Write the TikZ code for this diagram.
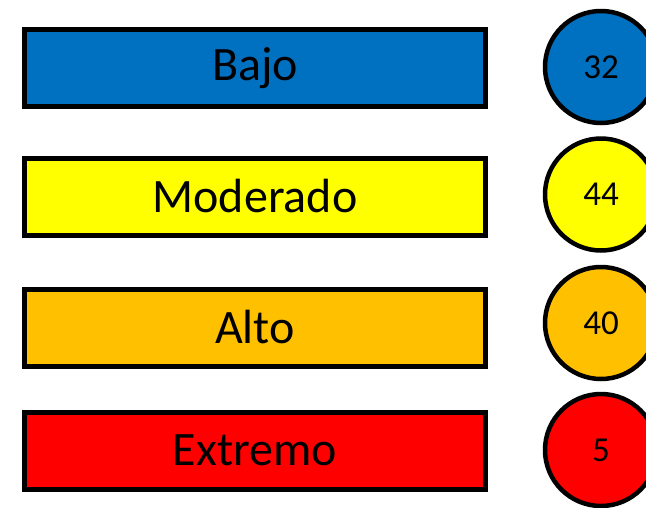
\documentclass[tikz,border=0pt]{standalone}
\usepackage{fontspec}
\setmainfont{Carlito}
\definecolor{bajo}{HTML}{0070C0}
\definecolor{moderado}{HTML}{FFFF00}
\definecolor{alto}{HTML}{FFC000}
\definecolor{extremo}{HTML}{FF0000}
\begin{document}
\begin{tikzpicture}[x=1pt,y=-1pt,
        nivel/.style={draw,line width=5pt,minimum width=461pt,minimum height=77pt,inner sep=0pt,font=\fontsize{48}{52}\selectfont},
        cifra/.style={draw,circle,line width=4.5pt,minimum size=112pt,inner sep=0pt,font=\fontsize{35}{40}\selectfont}]
        \useasboundingbox (0,0) rectangle (646,507);
        \clip (0,0) rectangle (646,507);
        % niveles
        \node[nivel,fill=bajo] (bajo) at (255,68) {Bajo};
        \node[nivel,fill=moderado] (moderado) at (255,196.5) {Moderado};
        \node[nivel,fill=alto] (alto) at (255,327.5) {Alto};
        \node[nivel,fill=extremo] (extremo) at (255,450.5) {Extremo};
        % cantidades
        \node[cifra,fill=bajo] (nbajo) at (601,67) {32};
        \node[cifra,fill=moderado] (nmoderado) at (601,194.5) {44};
        \node[cifra,fill=alto] (nalto) at (601,323) {40};
        \node[cifra,fill=extremo] (nextremo) at (601,450) {5};
    \end{tikzpicture}
\end{document}
